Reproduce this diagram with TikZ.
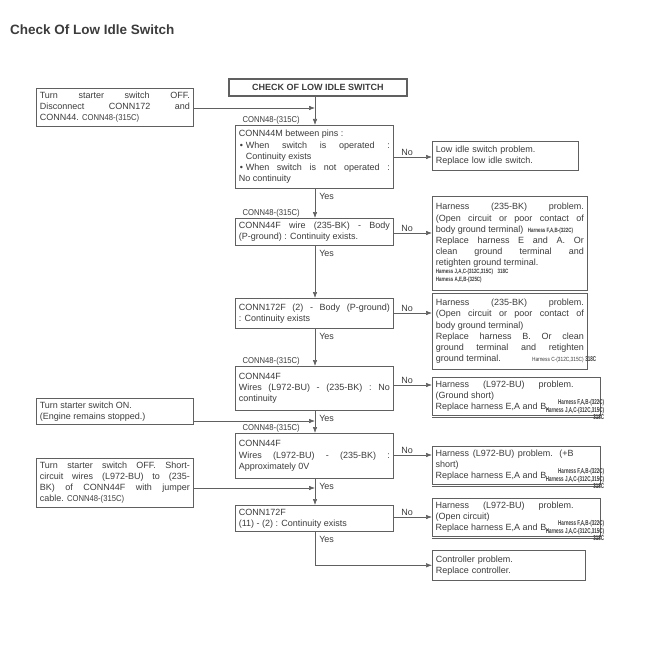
\documentclass[tikz,border=0pt]{standalone}
\usepackage{fontspec}
\setmainfont{Liberation Sans}
\usepackage{graphicx}
\usetikzlibrary{arrows.meta}
\definecolor{ink}{HTML}{3C3C3C}
\definecolor{edge}{HTML}{606060}
\newcommand\tagtext[1]{\scalebox{0.9}[1]{\fontsize{8.5}{8.5}\selectfont #1}}
\newcommand\tagsmall[1]{\scalebox{0.8}[1]{\fontsize{6}{6}\selectfont #1}}
\newcommand\harlab[1]{\scalebox{0.65}[1]{\fontsize{7}{7}\selectfont\bfseries #1}}
\newcommand\hartiny[1]{\scalebox{0.72}[1]{\fontsize{6.2}{6.2}\selectfont\bfseries #1}}
\newcommand\bul{\makebox[7pt][l]{\hspace{1pt}•}}
\begin{document}
\begin{tikzpicture}[x=1pt,y=-1pt,
  every node/.style={text=ink},
  font=\fontsize{9}{11.1}\selectfont,
  box/.style={draw=edge, line width=0.6pt, anchor=north west, inner sep=3.5pt, align=justify},
  lbox/.style={box, text width=150pt},
  cbox/.style={box, text width=151pt},
  rbox/.style={box, text width=148pt},
  rtxt/.style={anchor=north west, inner sep=3.5pt, align=justify, text width=138pt},
  boxline/.style={draw=edge, line width=0.6pt},
  arr/.style={draw=edge, line width=0.6pt, -{Latex[length=6pt,width=4.5pt]}},
  tagn/.style={inner sep=0.5pt, anchor=south west},
  lbl/.style={inner sep=1pt, font=\fontsize{9}{10}\selectfont},
  yeslbl/.style={lbl, pos=0, anchor=north west, xshift=3pt, yshift=-3pt},
  hlabs/.style={inner sep=0pt, align=right, anchor=south east, font=\fontsize{7}{7.6}\selectfont}
]
\fill[white] (0,0) rectangle (650,650);
\useasboundingbox (0,0) rectangle (650,650);

\node[anchor=west, inner sep=0, font=\fontsize{13.5}{15}\selectfont\bfseries] (title) at (10,30) {Check Of Low Idle Switch};

\node[draw=edge, line width=1.6pt, anchor=north west, minimum width=178pt, minimum height=17pt, inner sep=0, font=\fontsize{9}{10}\selectfont\bfseries] (top) at (228,78) {CHECK OF LOW IDLE SWITCH};

\coordinate (spine) at (315,0);

% left boxes
\node[lbox, minimum height=38pt] (L1) at (36,88) {Turn starter switch OFF.\linebreak Disconnect CONN172 and\linebreak CONN44. \tagtext{CONN48-(315C)}};
\node[lbox, minimum height=26pt] (L2) at (36,398) {Turn starter switch ON.\par (Engine remains stopped.)};
\node[lbox, minimum height=48pt] (L3) at (36,458) {Turn starter switch OFF. Short-\linebreak circuit wires (L972-BU) to (235-\linebreak BK) of CONN44F with jumper\linebreak cable. \tagtext{CONN48-(315C)}};

% centre boxes
\node[cbox, minimum height=63pt] (b2) at (235,125) {CONN44M between pins :\par
 \hangindent=7pt\hangafter=1\bul When switch is operated :\linebreak Continuity exists\par
 \hangindent=7pt\hangafter=1\bul When switch is not operated :\linebreak No continuity};
\node[cbox, minimum height=27pt] (b3) at (235,218) {CONN44F wire (235-BK) - Body\linebreak (P-ground) : Continuity exists.};
\node[cbox, minimum height=30pt] (b4) at (235,298) {CONN172F (2) - Body (P-ground)\linebreak : Continuity exists};
\node[cbox, minimum height=44pt] (b5) at (235,366) {CONN44F\par Wires (L972-BU) - (235-BK) : No\linebreak continuity};
\node[cbox, minimum height=45pt] (b6) at (235,433) {CONN44F\par Wires (L972-BU) - (235-BK) :\linebreak Approximately 0V};
\node[cbox, minimum height=26pt] (b7) at (235,505) {CONN172F\par (11) - (2) : Continuity exists};

% tags above boxes
\node[tagn] (t2) at ([xshift=7pt]b2.north west) {\tagtext{CONN48-(315C)}};
\node[tagn] (t3) at ([xshift=7pt]b3.north west) {\tagtext{CONN48-(315C)}};
\node[tagn] (t5) at ([xshift=7pt]b5.north west) {\tagtext{CONN48-(315C)}};
\node[tagn] (t6) at ([xshift=7pt]b6.north west) {\tagtext{CONN48-(315C)}};

% right boxes
\node[box, text width=139pt, minimum height=29pt, align=left] (R1) at (432,141) {Low idle switch problem.\par Replace low idle switch.};
\node[rbox, minimum height=94pt] (R2) at (432,196) {Harness (235-BK) problem.\linebreak (Open circuit or poor contact of\linebreak body ground terminal)\enspace\hartiny{Harness F,A,B-(322C)}\par Replace harness E and A. Or\linebreak clean ground terminal and\linebreak retighten ground terminal.\par
 {\fontsize{6}{8.2}\selectfont\hartiny{Harness J,A,C-(312C,315C)\quad 318C}\par
 \hartiny{Harness A,E,B-(325C)}\par}};
\node[rbox, minimum height=76pt] (R3) at (432,293) {Harness (235-BK) problem.\linebreak (Open circuit or poor contact of\linebreak body ground terminal)\par Replace harness B. Or clean\linebreak ground terminal and retighten\linebreak ground terminal.\hfill\tagsmall{Harness C-(312C,315C)}\rlap{\,\harlab{318C}}};

\node[rtxt, minimum height=36pt] (R4) at (432,377) {Harness (L972-BU) problem.\linebreak (Ground short)\par Replace harness E,A and B.};
\draw[boxline] (R4.north west) rectangle ([xshift=23pt]R4.south east);
\draw[boxline] ([yshift=-2pt]R4.south west) -- ([xshift=23pt,yshift=-2pt]R4.south east);
\node[hlabs] (h4) at ([xshift=27pt,yshift=-5pt]R4.south east) {\harlab{Harness F,A,B-(322C)}\\\harlab{Harness J,A,C-(312C,315C)}\\\harlab{318C}};

\node[rtxt, minimum height=34pt] (R5) at (432,446) {Harness (L972-BU) problem. (+B\linebreak short)\par Replace harness E,A and B};
\draw[boxline] (R5.north west) rectangle ([xshift=23pt]R5.south east);
\draw[boxline] ([yshift=-2pt]R5.south west) -- ([xshift=23pt,yshift=-2pt]R5.south east);
\node[hlabs] (h5) at ([xshift=27pt,yshift=-5pt]R5.south east) {\harlab{Harness F,A,B-(322C)}\\\harlab{Harness J,A,C-(312C,315C)}\\\harlab{318C}};

\node[rtxt, minimum height=37pt] (R6) at (432,498) {Harness (L972-BU) problem.\linebreak (Open circuit)\par Replace harness E,A and B.};
\draw[boxline] (R6.north west) rectangle ([xshift=23pt]R6.south east);
\draw[boxline] ([yshift=-2pt]R6.south west) -- ([xshift=23pt,yshift=-2pt]R6.south east);
\node[hlabs] (h6) at ([xshift=27pt,yshift=-5pt]R6.south east) {\harlab{Harness F,A,B-(322C)}\\\harlab{Harness J,A,C-(312C,315C)}\\\harlab{318C}};

\node[box, text width=146pt, minimum height=30pt, align=left] (R7) at (432,550) {Controller problem.\par Replace controller.};

% spine arrows
\draw[arr] (top.south -| spine) -- (b2.north -| spine);
\draw[arr] (b2.south -| spine) -- node[yeslbl]{Yes} (b3.north -| spine);
\draw[arr] (b3.south -| spine) -- node[yeslbl]{Yes} (b4.north -| spine);
\draw[arr] (b4.south -| spine) -- node[yeslbl]{Yes} (b5.north -| spine);
\draw[arr] (b5.south -| spine) -- node[yeslbl]{Yes} (b6.north -| spine);
\draw[arr] (b6.south -| spine) -- node[yeslbl]{Yes} (b7.north -| spine);
\draw[arr] (b7.south -| spine) |- node[yeslbl]{Yes} (R7.west);

% left feeds
\coordinate (j1) at (0,108);
\coordinate (j2) at (0,421);
\coordinate (j3) at (0,488);
\draw[arr] (L1.east |- j1) -- (spine |- j1);
\draw[arr] (L2.east |- j2) -- (spine |- j2);
\draw[arr] (L3.east |- j3) -- (spine |- j3);

% No branches
\coordinate (n2) at (0,157);
\coordinate (n3) at (0,233);
\coordinate (n4) at (0,313);
\coordinate (n5) at (0,385);
\coordinate (n6) at (0,455);
\coordinate (n7) at (0,517);
\draw[arr] (b2.east |- n2) -- node[lbl, above, pos=0.35]{No} (R1.west |- n2);
\draw[arr] (b3.east |- n3) -- node[lbl, above, pos=0.35]{No} (R2.west |- n3);
\draw[arr] (b4.east |- n4) -- node[lbl, above, pos=0.35]{No} (R3.west |- n4);
\draw[arr] (b5.east |- n5) -- node[lbl, above, pos=0.35]{No} (R4.west |- n5);
\draw[arr] (b6.east |- n6) -- node[lbl, above, pos=0.35]{No} (R5.west |- n6);
\draw[arr] (b7.east |- n7) -- node[lbl, above, pos=0.35]{No} (R6.west |- n7);
\end{tikzpicture}
\end{document}
